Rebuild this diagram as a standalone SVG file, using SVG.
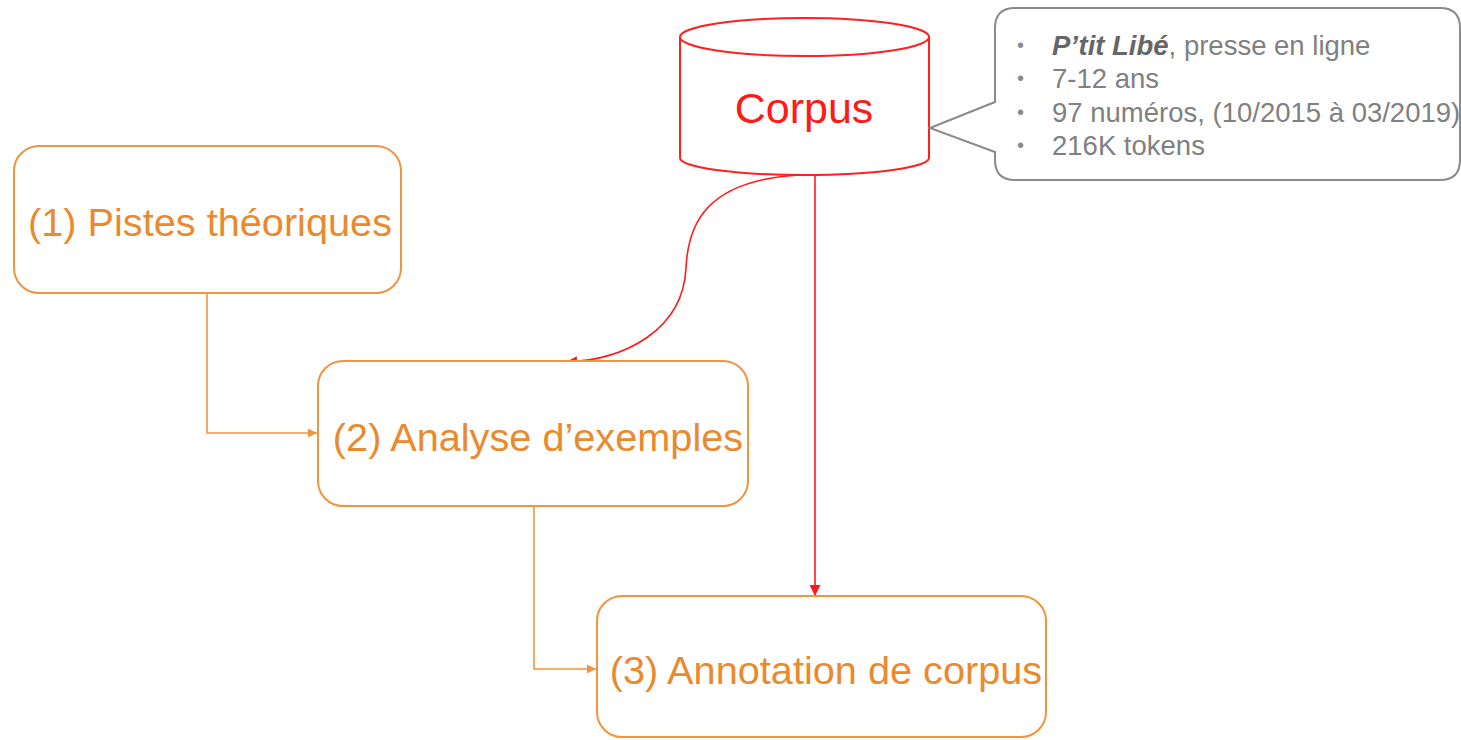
<svg xmlns="http://www.w3.org/2000/svg" width="1461" height="740" viewBox="0 0 1461 740">
  <style>
    .box { fill: #ffffff; stroke: #F0953F; stroke-width: 2; }
    .lbl { font-family: "Liberation Sans", Arial, sans-serif; font-size: 39.7px; fill: #E98A2E; text-anchor: middle; }
    .link { fill: none; stroke: #F0953F; stroke-width: 1.6; }
    .rlink { fill: none; stroke: #FF1A1A; stroke-width: 1.6; }
    .note { font-family: "Liberation Sans", Arial, sans-serif; font-size: 27.5px; fill: #808080; }
    .dot { font-family: "Liberation Sans", Arial, sans-serif; font-size: 20px; fill: #8A8A8A; }
  </style>
  <defs>
    <marker id="arrO" viewBox="0 0 10 10" refX="10" refY="5" markerWidth="9" markerHeight="9" orient="auto" markerUnits="userSpaceOnUse">
      <path d="M0,0 L10,5 L0,10 z" fill="#F0953F"/>
    </marker>
    <marker id="arrR" viewBox="0 0 10 10" refX="10" refY="5" markerWidth="11" markerHeight="11" orient="auto" markerUnits="userSpaceOnUse">
      <path d="M0,0 L10,5 L0,10 z" fill="#FF1A1A"/>
    </marker>
  </defs>
  <rect width="1461" height="740" fill="#ffffff"/>

  <g id="connectors">
    <path class="link" d="M207,293 V433 H317" marker-end="url(#arrO)"/>
    <path class="link" d="M534,506 V669 H596" marker-end="url(#arrO)"/>
    <path class="rlink" d="M800,175 C705,180 688,225 686,268 C683,330 625,360 566,362" marker-end="url(#arrR)"/>
    <path class="rlink" d="M815,175 V596" marker-end="url(#arrR)"/>
  </g>

  <g id="corpus">
    <path d="M680,37 V158 A124.5,17 0 0 0 929,158 V37" fill="#ffffff" stroke="#FF2020" stroke-width="2"/>
    <ellipse cx="804.5" cy="37" rx="124.5" ry="19" fill="#ffffff" stroke="#FF2020" stroke-width="2"/>
    <text x="804" y="123" font-family="Liberation Sans, Arial, sans-serif" font-size="43" fill="#FF1A1A" text-anchor="middle">Corpus</text>
  </g>

  <g id="corpus-note">
    <path d="M1015,8 H1440 Q1460,8 1460,28 V160 Q1460,180 1440,180 H1015 Q995,180 995,160 V152 L930,128 L995,102 V28 Q995,8 1015,8 z" fill="#ffffff" stroke="#8A8A8A" stroke-width="2"/>
    <g class="dot">
      <text x="1017" y="52">•</text>
      <text x="1017" y="85">•</text>
      <text x="1017" y="119">•</text>
      <text x="1017" y="152">•</text>
    </g>
    <g class="note">
      <text x="1052" y="55"><tspan font-weight="bold" font-style="italic" fill="#666666">P’tit Libé</tspan>, presse en ligne</text>
      <text x="1052" y="88">7-12 ans</text>
      <text x="1052" y="122">97 numéros, (10/2015 à 03/2019)</text>
      <text x="1052" y="155">216K tokens</text>
    </g>
  </g>

  <g id="pistes">
    <rect class="box" x="14" y="146" width="387" height="147" rx="25"/>
    <text class="lbl" x="210" y="236">(1) Pistes théoriques</text>
  </g>

  <g id="analyse">
    <rect class="box" x="318" y="361" width="430" height="145" rx="25"/>
    <text class="lbl" x="538" y="451">(2) Analyse d’exemples</text>
  </g>

  <g id="annotation">
    <rect class="box" x="597" y="596" width="449" height="141" rx="25"/>
    <text class="lbl" x="826" y="684">(3) Annotation de corpus</text>
  </g>
</svg>
